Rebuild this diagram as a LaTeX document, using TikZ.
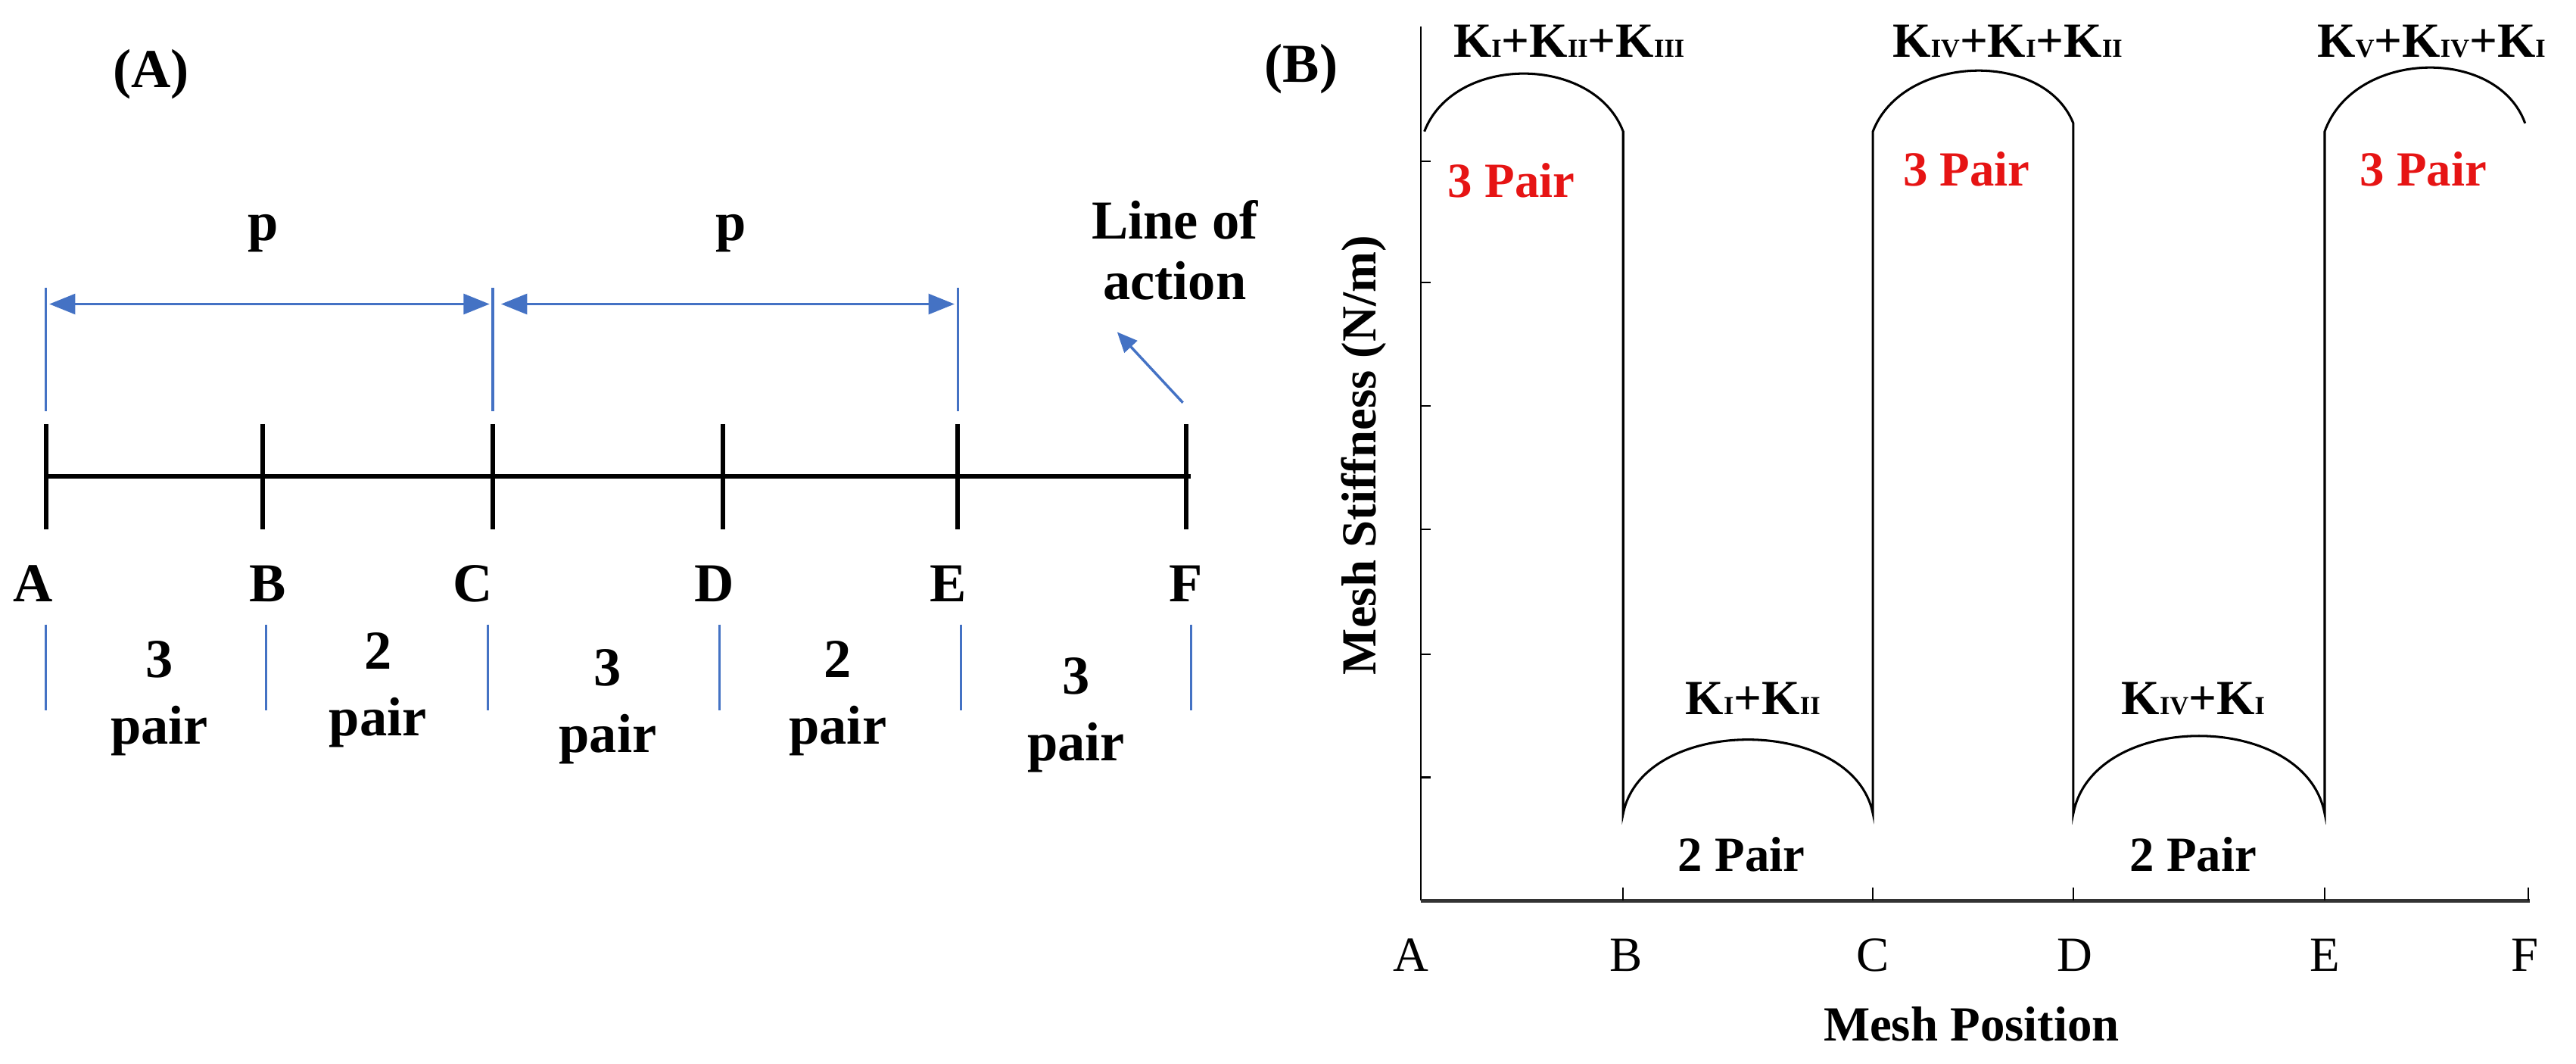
\documentclass[tikz,border=0pt]{standalone}
\usepackage{fontspec}
\setmainfont{Liberation Serif}
\usetikzlibrary{arrows.meta}
\begin{document}
\begin{tikzpicture}[x=0.02cm,y=-0.02cm,
  lbl/.style={font=\fontsize{19}{21}\selectfont\bfseries},
  lb/.style={font=\fontsize{17}{19}\selectfont\bfseries},
  big/.style={font=\fontsize{19}{21}\selectfont\bfseries},
  blu/.style={draw={rgb,255:red,68;green,114;blue,196},line width=0.9pt},
  red/.style={lb,text={rgb,255:red,230;green,20;blue,20}},
  tick/.style={line width=1.6pt}]
\useasboundingbox (0,0) rectangle (1568,647);
% Panel A
\node[big] (tA) at (92,45) {(A)};
\coordinate (L0) at (28,290); \coordinate (L1) at (725,290);
\draw[line width=1.6pt] (L0) -- (L1);
\foreach \x/\n/\lx in {28/A/20,160/B/163,300/C/288,440/D/435,583/E/577,722/F/722}{
  \coordinate (t\n) at (\x,258); \coordinate (b\n) at (\x,322);
  \draw[tick] (t\n) -- (b\n);
  \node[big] (n\n) at (\lx,355) {\n};}
\foreach \x/\n in {28/a,162/b,297/c,438/d,585/e,725/f}{
  \coordinate (u\n) at (\x,380); \coordinate (v\n) at (\x,432);
  \draw[blu] (u\n) -- (v\n);}
\foreach \x/\n in {28/1,300/2,583/3}{
  \coordinate (p\n) at (\x,175); \coordinate (q\n) at (\x,250);
  \draw[blu] (p\n) -- (q\n);}
\coordinate (a1) at (30,185); \coordinate (a2) at (298,185);
\coordinate (a3) at (305,185); \coordinate (a4) at (581,185);
\draw[blu,{Triangle[length=9pt,width=7pt]}-{Triangle[length=9pt,width=7pt]}] (a1) -- (a2);
\draw[blu,{Triangle[length=9pt,width=7pt]}-{Triangle[length=9pt,width=7pt]}] (a3) -- (a4);
\node[lbl] (pp1) at (160,142) {p};
\node[lbl] (pp2) at (445,142) {p};
\node[big,align=center] (loa) at (715,152) {Line of\\action};
\coordinate (la1) at (720,245); \coordinate (la2) at (680,202);
\draw[blu,-{Triangle[length=7pt,width=6pt]}] (la1) -- (la2);
\foreach \x/\n/\y in {97/3/0,230/2/-5,370/3/5,510/2/0,655/3/10}{
  \node[big,align=center] at (\x,425+\y) {\n\\[2pt]pair};}
% Panel B
\node[big] (tB) at (792,42) {(B)};
\coordinate (O) at (865,548); \coordinate (Yt) at (865,16); \coordinate (Xr) at (1540,548);
\draw[line width=0.6pt] (Yt) -- (O);
\draw[line width=1.4pt,black!80] (O) -- (Xr);
\foreach \y in {98,172,247,322,398,473}{\draw[line width=0.6pt] (865,\y) -- (871,\y);}
\foreach \x in {988,1140,1262,1415,1539}{\draw[line width=0.6pt] (\x,548) -- (\x,540);}
\foreach \x/\n in {859/A,990/B,1140/C,1263/D,1415/E,1537/F}{
  \node[font=\fontsize{17}{19}\selectfont] (m\n) at (\x,581) {\n};}
\node[lb] (xl) at (1200,623) {Mesh Position};
\node[lb,rotate=90] (yl) at (830,277) {Mesh Stiffness (N/m)};
\draw[line width=0.8pt] (867,80) .. controls (885,33) and (970,33) .. (988,80)
  -- (988,495) .. controls (1000,435) and (1128,435) .. (1140,495)
  -- (1140,80) .. controls (1158,33) and (1244,30) .. (1262,75)
  -- (1262,495) .. controls (1274,432) and (1403,432) .. (1415,495)
  -- (1415,80) .. controls (1433,30) and (1520,28) .. (1537,75);
\node[lb] at (955,25) {K{\small I}+K{\small II}+K{\small III}};
\node[lb] at (1222,25) {K{\small IV}+K{\small I}+K{\small II}};
\node[lb] at (1480,25) {K{\small V}+K{\small IV}+K{\small I}};
\node[lb] at (1067,425) {K{\small I}+K{\small II}};
\node[lb] at (1335,425) {K{\small IV}+K{\small I}};
\node[lb] at (1060,520) {2 Pair};
\node[lb] at (1335,520) {2 Pair};
\node[red] at (920,110) {3 Pair};
\node[red] at (1197,103) {3 Pair};
\node[red] at (1475,103) {3 Pair};
\end{tikzpicture}
\end{document}
